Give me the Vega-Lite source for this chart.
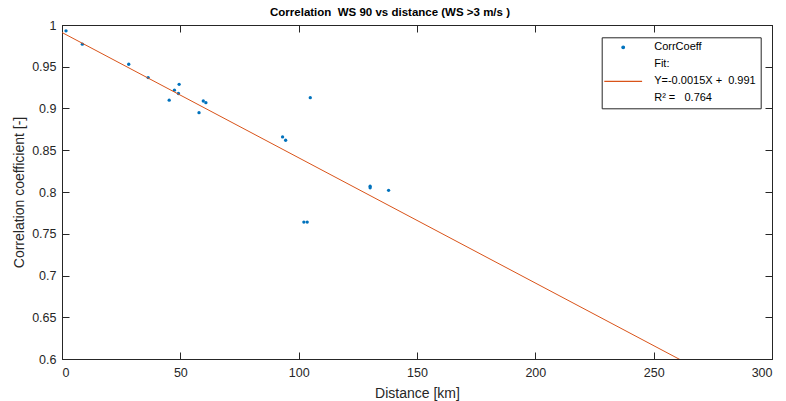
{
  "$schema": "https://vega.github.io/schema/vega-lite/v6.json",
  "autosize": "none",
  "padding": {"left": 62, "top": 25, "right": 14, "bottom": 42},
  "width": 710,
  "height": 334,
  "background": "white",
  "title": {
    "text": "Correlation\u00a0 WS 90 vs distance (WS >3 m/s )",
    "font": "Liberation Sans",
    "fontSize": 11.5,
    "fontWeight": "bold",
    "color": "#000000",
    "anchor": "middle",
    "dx": -27,
    "offset": 1
  },
  "config": {
    "view": {"stroke": "#262626", "strokeWidth": 1},
    "axis": {
      "grid": false,
      "domainColor": "#262626",
      "tickColor": "#262626",
      "labelColor": "#262626",
      "titleColor": "#262626",
      "labelFont": "Liberation Sans",
      "titleFont": "Liberation Sans",
      "labelFontSize": 12.5,
      "titleFontSize": 14,
      "titleFontWeight": "normal",
      "domainWidth": 1,
      "tickWidth": 1
    },
    "legend": {
      "labelFont": "Liberation Sans",
      "labelFontSize": 11,
      "labelColor": "#000000"
    }
  },
  "datasets": {
    "pts": [
      {"dist": 1.7, "corr": 0.993, "s": "CorrCoeff"},
      {"dist": 8.6, "corr": 0.977, "s": "CorrCoeff"},
      {"dist": 28.2, "corr": 0.953, "s": "CorrCoeff"},
      {"dist": 36.4, "corr": 0.937, "s": "CorrCoeff"},
      {"dist": 45.3, "corr": 0.910, "s": "CorrCoeff"},
      {"dist": 47.5, "corr": 0.922, "s": "CorrCoeff"},
      {"dist": 49.5, "corr": 0.929, "s": "CorrCoeff"},
      {"dist": 49.2, "corr": 0.918, "s": "CorrCoeff"},
      {"dist": 57.9, "corr": 0.895, "s": "CorrCoeff"},
      {"dist": 59.7, "corr": 0.909, "s": "CorrCoeff"},
      {"dist": 60.8, "corr": 0.907, "s": "CorrCoeff"},
      {"dist": 93.2, "corr": 0.866, "s": "CorrCoeff"},
      {"dist": 94.5, "corr": 0.862, "s": "CorrCoeff"},
      {"dist": 104.9, "corr": 0.913, "s": "CorrCoeff"},
      {"dist": 102.2, "corr": 0.764, "s": "CorrCoeff"},
      {"dist": 103.6, "corr": 0.764, "s": "CorrCoeff"},
      {"dist": 130.2, "corr": 0.807, "s": "CorrCoeff"},
      {"dist": 130.2, "corr": 0.805, "s": "CorrCoeff"},
      {"dist": 138.0, "corr": 0.802, "s": "CorrCoeff"}
    ],
    "fit": [
      {"dist": 0, "corr": 0.991, "s": "\u00a0Y=-0.0015X +\u00a0 0.991"},
      {"dist": 300, "corr": 0.541, "s": "\u00a0Y=-0.0015X +\u00a0 0.991"}
    ]
  },
  "layer": [
    {
      "data": {"name": "pts"},
      "mark": {"type": "point", "filled": true, "size": 11, "opacity": 1},
      "encoding": {
        "x": {
          "field": "dist", "type": "quantitative",
          "scale": {"domain": [0, 300], "nice": false, "zero": false},
          "axis": {"orient": "bottom", "values": [0, 50, 100, 150, 200, 250, 300], "tickSize": -7, "labelPadding": 14, "title": "Distance [km]", "titlePadding": 8}
        },
        "y": {
          "field": "corr", "type": "quantitative",
          "scale": {"domain": [0.6, 1], "nice": false, "zero": false},
          "axis": {"orient": "left", "values": [0.6, 0.65, 0.7, 0.75, 0.8, 0.85, 0.9, 0.95, 1], "format": "~g", "tickSize": -7, "labelPadding": 13, "title": "Correlation coefficient [-]", "titlePadding": 5}
        },
        "color": {
          "field": "s", "type": "nominal",
          "scale": {
            "domain": ["CorrCoeff", "Fit:", "\u00a0Y=-0.0015X +\u00a0 0.991", "R² =\u00a0\u00a0 0.764"],
            "range": ["#0072BD", "transparent", "#D95319", "transparent"]
          },
          "legend": {
            "title": null,
            "orient": "none",
            "legendX": 539.7,
            "legendY": 12.3,
            "fillColor": "white",
            "strokeColor": "#262626",
            "padding": 4.5,
            "rowPadding": 5,
            "symbolSize": 81,
            "symbolType": "circle",
            "symbolOffset": 11.5,
            "labelOffset": 25.5,
            "encode": {
              "symbols": {
                "update": {
                  "shape": {"signal": "datum.index === 0 ? 'circle' : 'M-4.2,0H4.2'"},
                  "size": {"signal": "datum.index === 0 ? 7 : 81"},
                  "fill": {"signal": "datum.index === 0 ? '#0072BD' : 'transparent'"},
                  "stroke": {"signal": "datum.index === 2 ? '#D95319' : 'transparent'"},
                  "strokeWidth": {"value": 1.2},
                  "opacity": {"value": 1}
                }
              }
            }
          }
        }
      }
    },
    {
      "data": {"name": "fit"},
      "mark": {"type": "line", "strokeWidth": 1, "clip": true},
      "encoding": {
        "x": {
          "field": "dist", "type": "quantitative",
          "axis": {"orient": "top", "values": [0, 50, 100, 150, 200, 250, 300], "tickSize": -7, "labels": false, "title": null, "domain": true}
        },
        "y": {
          "field": "corr", "type": "quantitative",
          "axis": {"orient": "right", "values": [0.6, 0.65, 0.7, 0.75, 0.8, 0.85, 0.9, 0.95, 1], "tickSize": -7, "labels": false, "title": null, "domain": true}
        },
        "color": {
          "field": "s", "type": "nominal",
          "legend": {
            "title": null,
            "orient": "none",
            "legendX": 539.7,
            "legendY": 12.3,
            "fillColor": "white",
            "strokeColor": "#262626",
            "padding": 4.5,
            "rowPadding": 5,
            "symbolSize": 81,
            "symbolType": "circle",
            "symbolOffset": 11.5,
            "labelOffset": 25.5,
            "encode": {
              "symbols": {
                "update": {
                  "shape": {"signal": "datum.index === 0 ? 'circle' : 'M-4.2,0H4.2'"},
                  "size": {"signal": "datum.index === 0 ? 7 : 81"},
                  "fill": {"signal": "datum.index === 0 ? '#0072BD' : 'transparent'"},
                  "stroke": {"signal": "datum.index === 2 ? '#D95319' : 'transparent'"},
                  "strokeWidth": {"value": 1.2},
                  "opacity": {"value": 1}
                }
              }
            }
          }
        }
      }
    }
  ],
  "resolve": {"axis": {"x": "independent", "y": "independent"}}
}
